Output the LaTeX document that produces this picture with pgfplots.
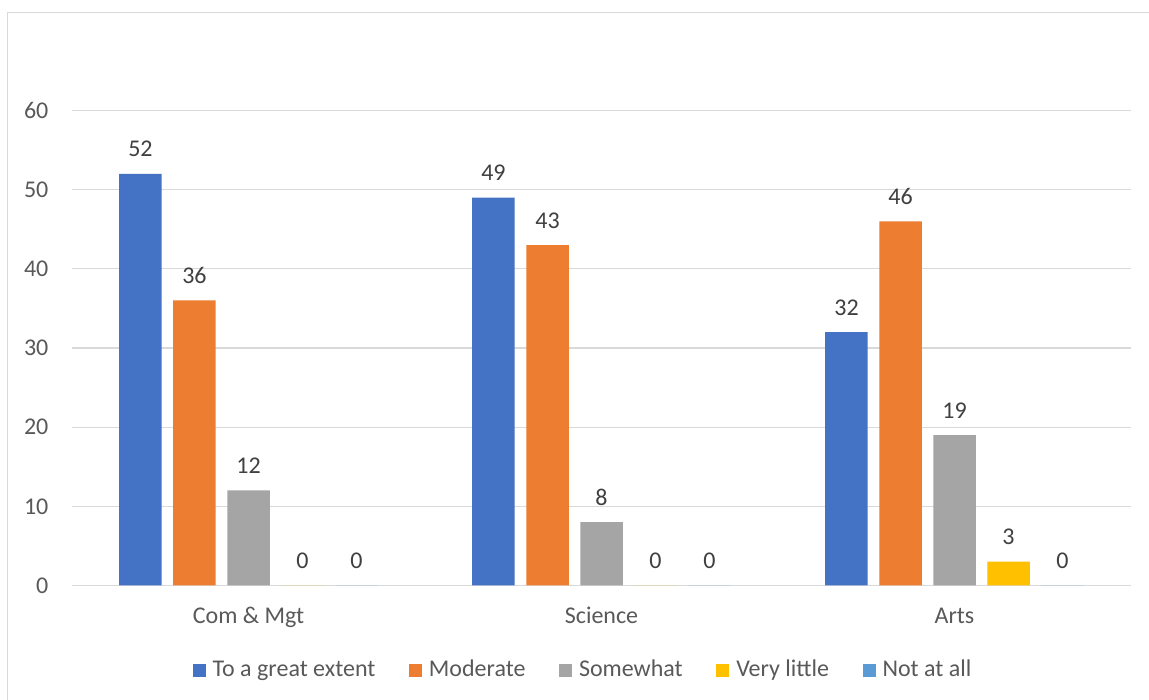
\documentclass[border=0pt]{standalone}
\usepackage{fontspec}
\setmainfont{Carlito}
\usepackage{pgfplots}
\pgfplotsset{compat=1.18}

\definecolor{cBlue}{HTML}{4472C4}
\definecolor{cOrange}{HTML}{ED7D31}
\definecolor{cGray}{HTML}{A5A5A5}
\definecolor{cGold}{HTML}{FFC000}
\definecolor{cLight}{HTML}{5B9BD5}
\definecolor{gridc}{HTML}{D9D9D9}
\definecolor{txt}{HTML}{595959}
\definecolor{lbl}{HTML}{404040}

\newcommand{\fs}{\fontsize{12}{14}\selectfont}

\begin{document}
\begin{tikzpicture}
  \useasboundingbox (0,0) rectangle (574.5pt,350pt);
  \fill[white] (0,0) rectangle (574.5pt,350pt);
  \draw[gridc, line width=0.6pt] (3.75pt,-2pt) -- (3.75pt,343.85pt) -- (580pt,343.85pt);
  \begin{axis}[
      at={(36pt,57.25pt)}, anchor=south west,
      scale only axis,
      width=529.5pt, height=237.5pt,
      xmin=-0.5, xmax=2.5,
      ymin=0, ymax=60,
      ytick={0,10,...,60},
      xtick={0,1,2},
      xticklabels={Com \& Mgt, Science, Arts},
      major tick length=0pt,
      axis line style={draw=none},
      ymajorgrids,
      major grid style={gridc, line width=0.6pt},
      /pgf/number format/assume math mode=true,
      tick label style={font=\fs, text=txt, inner sep=0pt},
      yticklabel style={anchor=east, xshift=-11.6pt},
      xticklabel style={anchor=base, yshift=-19.25pt},
      ybar, bar width=0.1204,
      nodes near coords,
      every node near coord/.append style={font=\fs, text=lbl, inner sep=0pt, anchor=base, yshift=8.5pt},
      legend columns=5,
      legend style={at={(axis description cs:0.4835,-0.178)}, anchor=center, draw=none, fill=none,
        font=\fs, text=txt, inner sep=0pt,
        /tikz/every odd column/.append style={column sep=1.5pt},
        /tikz/every even column/.append style={column sep=14.75pt}},
      legend image code/.code={\fill[#1] (0pt,-3.25pt) rectangle (6.5pt,3.25pt);},
    ]
    \addplot[fill=cBlue, draw=none, bar shift=-0.306] coordinates {(0,52) (1,49) (2,32)};
    \addlegendentry{To a great extent}
    \addplot[fill=cOrange, draw=none, bar shift=-0.153] coordinates {(0,36) (1,43) (2,46)};
    \addlegendentry{Moderate}
    \addplot[fill=cGray, draw=none, bar shift=0] coordinates {(0,12) (1,8) (2,19)};
    \addlegendentry{Somewhat}
    \addplot[fill=cGold, draw=none, bar shift=0.153] coordinates {(0,0) (1,0) (2,3)};
    \addlegendentry{Very little}
    \addplot[fill=cLight, draw=none, bar shift=0.306] coordinates {(0,0) (1,0) (2,0)};
    \addlegendentry{Not at all}
  \end{axis}
\end{tikzpicture}
\end{document}
